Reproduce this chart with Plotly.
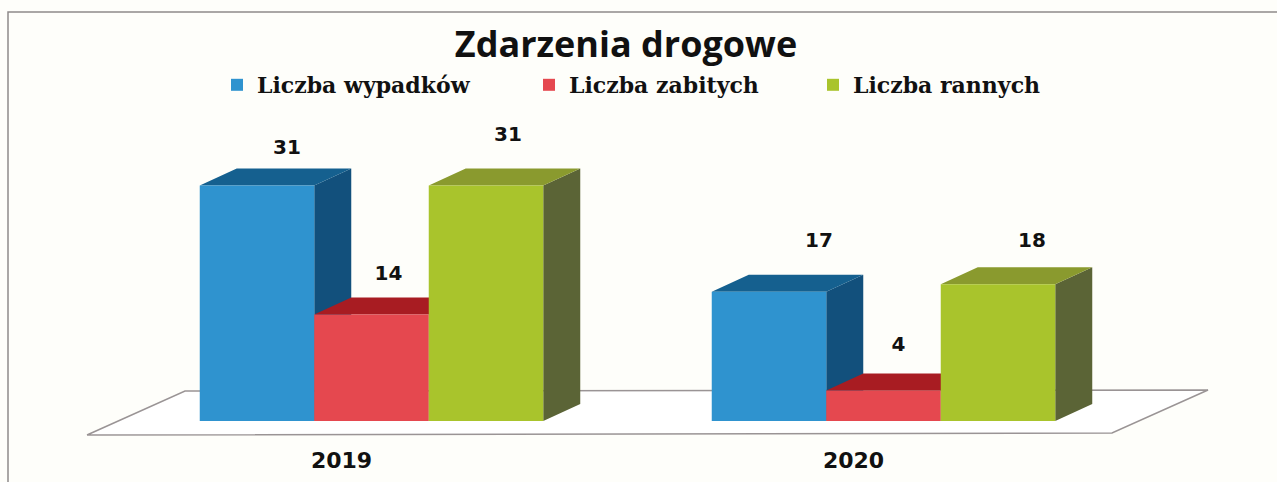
import plotly.graph_objects as go

# ---- data ----
years = ["2019", "2020"]
series_names = ["Liczba wypadków", "Liczba zabitych", "Liczba rannych"]
wypadki = [31, 17]
zabici = [14, 4]
ranni = [31, 18]
series_values = [wypadki, zabici, ranni]

# ---- style ----
W, H = 1277, 482
PX_X = 512.0          # pixels per group
PX_Y = 7.6            # pixels per value unit
BASE_PX = 421.0
AXIS_PX = 445.0
G0_PX = 371.5
BAR_PX = 114.5
DEPTH_X, DEPTH_Y = 37 / PX_X, 17 / PX_Y
front = ["#2f93cf", "#e5484f", "#a9c42c"]
top = ["#15608f", "#a81c22", "#8a9a2e"]
side = ["#12507c", "#8f1a20", "#5b6436"]
BG = "#fefefa"

x_range = [-G0_PX / PX_X, (W - G0_PX) / PX_X]
y_range = [-(AXIS_PX - BASE_PX) / PX_Y, BASE_PX / PX_Y]
w = BAR_PX / PX_X
group_x = [0, 1]

label_dx = [[30, 17, 22], [50, 15, 34]]
label_dy = [[36, 40, 49], [50, 45, 42]]
legend_ids = ["legend", "legend2", "legend3"]
legend_left_px = [217, 529, 813]

floor_x = [(87 - G0_PX) / PX_X, (185 - G0_PX) / PX_X, (1208 - G0_PX) / PX_X, (1112 - G0_PX) / PX_X, (87 - G0_PX) / PX_X]
floor_y = [-14 / PX_Y, 30 / PX_Y, 31 / PX_Y, -12 / PX_Y, -14 / PX_Y]

fig = go.Figure()

# floor
fig.add_trace(go.Scatter(x=floor_x, y=floor_y, mode="lines", fill="toself", fillcolor="#ffffff",
                         line=dict(color="#9a9495", width=1.5), showlegend=False, hoverinfo="skip"))

# 3D side and top faces, derived from the values
for i, vals in enumerate(series_values):
    sx, sy, tx, ty = [], [], [], []
    for g, v in zip(group_x, vals):
        x0 = g + (i - 1.5) * w
        x1 = x0 + w
        sx += [x1, x1, x1 + DEPTH_X, x1 + DEPTH_X, x1, None]
        sy += [0, v, v + DEPTH_Y, DEPTH_Y, 0, None]
        tx += [x0, x1, x1 + DEPTH_X, x0 + DEPTH_X, x0, None]
        ty += [v, v, v + DEPTH_Y, v + DEPTH_Y, v, None]
    for fx, fy, col in ((sx, sy, side[i]), (tx, ty, top[i])):
        fig.add_trace(go.Scatter(x=fx, y=fy, mode="lines", fill="toself", fillcolor=col,
                                 line=dict(width=0, color=col), showlegend=False, hoverinfo="skip"))

# front faces
for i, vals in enumerate(series_values):
    fig.add_trace(go.Bar(x=group_x, y=vals, name=series_names[i], marker=dict(color=front[i], line=dict(width=0)),
                         xaxis="x2", yaxis="y2", legend=legend_ids[i], showlegend=True))

# value labels
for i, vals in enumerate(series_values):
    lx = [g + (i - 1) * w + label_dx[k][i] / PX_X for k, g in enumerate(group_x)]
    ly = [v + label_dy[k][i] / PX_Y for k, v in enumerate(vals)]
    fig.add_trace(go.Scatter(x=lx, y=ly, mode="text", text=[str(v) for v in vals],
                             textposition="middle center",
                             textfont=dict(family="DejaVu Sans", size=20, color="#111111", weight="bold"),
                             showlegend=False, hoverinfo="skip", xaxis="x2", yaxis="y2"))

tick_shift = -30 / PX_X
axis_common = dict(showgrid=False, zeroline=False, showline=False)
legend_style = dict(xanchor="left", y=1 - 85 / AXIS_PX, yanchor="middle", bgcolor="rgba(0,0,0,0)",
                    itemclick=False, itemdoubleclick=False,
                    font=dict(family="DejaVu Serif", size=22, color="#111111", weight="bold"))
fig.update_layout(
    width=W, height=H,
    margin=dict(l=0, r=0, t=0, b=H - AXIS_PX, pad=0),
    paper_bgcolor=BG, plot_bgcolor="rgba(0,0,0,0)",
    barmode="group", bargap=1 - 3 * w, bargroupgap=0,
    title=dict(text="<b>Zdarzenia drogowe</b>", x=626 / W, xanchor="center", y=1 - 44 / H, yanchor="middle",
               font=dict(family="Open Sans", size=36, color="#111111")),
    xaxis=dict(range=x_range, tickmode="array", tickvals=[g + tick_shift for g in group_x], ticktext=years,
               ticks="", tickfont=dict(family="DejaVu Sans", size=22, color="#111111", weight="bold"), **axis_common),
    yaxis=dict(range=y_range, showticklabels=False, **axis_common),
    xaxis2=dict(range=x_range, overlaying="x", showticklabels=False, **axis_common),
    yaxis2=dict(range=y_range, overlaying="y", showticklabels=False, **axis_common),
    shapes=[dict(type="path", xref="paper", yref="paper",
                 path=f"M {8 / W} {-(H - AXIS_PX) / AXIS_PX} L {8 / W} {1 - 12 / AXIS_PX} L 1 {1 - 12 / AXIS_PX}",
                 line=dict(color="#8f8a8b", width=1.5))],
)
for lid, left in zip(legend_ids, legend_left_px):
    fig.layout[lid] = dict(x=left / W, **legend_style)

fig.write_html("out.html", config={"displayModeBar": False},
               post_script="document.body.style.margin='0';document.documentElement.style.overflow='hidden';")
